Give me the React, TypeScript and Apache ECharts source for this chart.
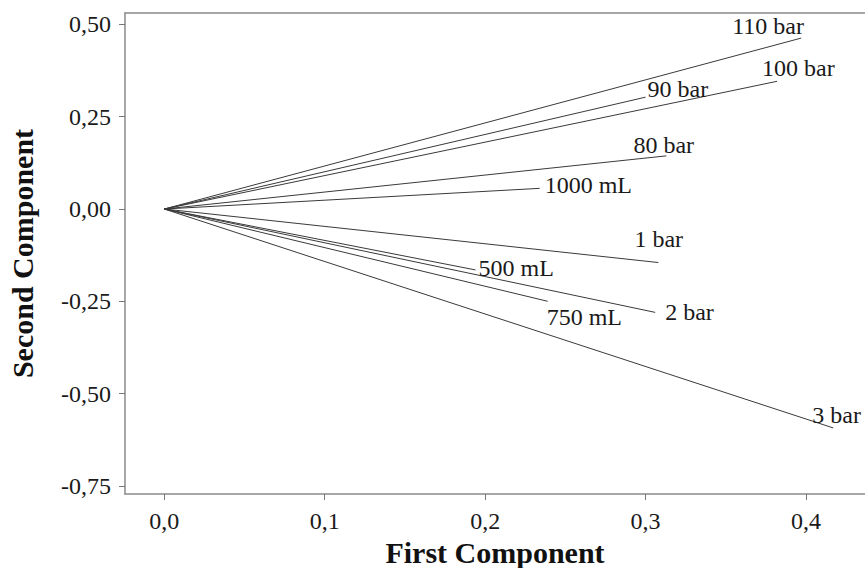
import React, { useEffect, useRef } from 'react';
import * as echarts from 'echarts';

const variables = ['110 bar', '100 bar', '90 bar', '80 bar', '1000 mL', '1 bar', '500 mL', '2 bar', '750 mL', '3 bar'];
const firstComponent = [0.397, 0.382, 0.300, 0.313, 0.234, 0.308, 0.194, 0.306, 0.239, 0.417];
const secondComponent = [0.463, 0.346, 0.303, 0.144, 0.056, -0.145, -0.165, -0.280, -0.250, -0.593];
const xTickValues = [0, 0.1, 0.2, 0.3, 0.4];
const yTickValues = [-0.75, -0.5, -0.25, 0, 0.25, 0.5];

// label placement relative to each vector's end point (pixels)
const labelOffsets: [number, number][] = [
  [-69, -12],
  [-15, -13],
  [2, -8],
  [-33, -11],
  [5, -3],
  [-24, -24],
  [3, -2],
  [10, 0],
  [-1, 16],
  [-21, -13],
];

const FONT = 'Liberation Serif';
const X_MIN = -0.0245;
const X_MAX = 0.4368;

export default function App() {
  const ref = useRef<HTMLDivElement>(null);
  useEffect(() => {
    if (!ref.current) return;
    const chart = echarts.init(ref.current, undefined, { renderer: 'svg' });
    const series = variables.map((name, i) => ({
      type: 'line',
      name,
      symbol: 'circle',
      symbolSize: 1,
      showSymbol: true,
      itemStyle: { color: 'rgba(0,0,0,0)' },
      lineStyle: { color: '#3a3a3a', width: 1 },
      emphasis: { disabled: true },
      silent: true,
      data: [
        { value: [0, 0], label: { show: false } },
        {
          value: [firstComponent[i], secondComponent[i]],
          label: {
            show: true,
            formatter: name,
            position: 'inside',
            align: 'left',
            verticalAlign: 'middle',
            offset: labelOffsets[i],
            color: '#1a1a1a',
            fontFamily: FONT,
            fontSize: 24,
          },
        },
      ],
    }));
    chart.setOption({
      animation: false,
      backgroundColor: '#ffffff',
      textStyle: { fontFamily: FONT },
      grid: {
        left: 125,
        top: 13,
        right: 0,
        bottom: 74,
        containLabel: false,
        outerBoundsMode: 'none',
      },
      xAxis: [
        {
          type: 'value',
          min: X_MIN,
          max: X_MAX,
          name: 'First Component',
          nameLocation: 'middle',
          nameGap: 41,
          nameTextStyle: { fontFamily: FONT, fontSize: 30, fontWeight: 'bold', color: '#111' },
          splitLine: { show: false },
          axisLine: { show: true, onZero: false, lineStyle: { color: '#8a8a8a', width: 1.5 } },
          axisTick: { show: true, length: 6, lineStyle: { color: '#777' }, customValues: xTickValues },
          axisLabel: {
            customValues: xTickValues,
            margin: 15,
            fontFamily: FONT,
            fontSize: 24,
            color: '#1a1a1a',
            formatter: (v: number) => v.toFixed(1).replace('.', ','),
          },
        },
        {
          type: 'value',
          position: 'top',
          min: X_MIN,
          max: X_MAX,
          splitLine: { show: false },
          axisLine: { show: true, onZero: false, lineStyle: { color: '#8a8a8a', width: 1.5 } },
          axisTick: { show: false },
          axisLabel: { show: false },
        },
      ],
      yAxis: {
        type: 'value',
        min: -0.772,
        max: 0.531,
        name: 'Second Component',
        nameLocation: 'middle',
        nameGap: 88,
        nameTextStyle: { fontFamily: FONT, fontSize: 30, fontWeight: 'bold', color: '#111' },
        splitLine: { show: false },
        axisLine: { show: true, onZero: false, lineStyle: { color: '#8a8a8a', width: 1.5 } },
        axisTick: { show: true, length: 6, lineStyle: { color: '#777' }, customValues: yTickValues },
        axisLabel: {
          customValues: yTickValues,
          margin: 14,
          fontFamily: FONT,
          fontSize: 24,
          color: '#1a1a1a',
          formatter: (v: number) => v.toFixed(2).replace('.', ','),
        },
      },
      series,
    });
    return () => chart.dispose();
  }, []);
  return (
    <div
      ref={ref}
      style={{ position: 'fixed', left: 0, top: 0, width: 865, height: 568, background: '#fff' }}
    />
  );
}
